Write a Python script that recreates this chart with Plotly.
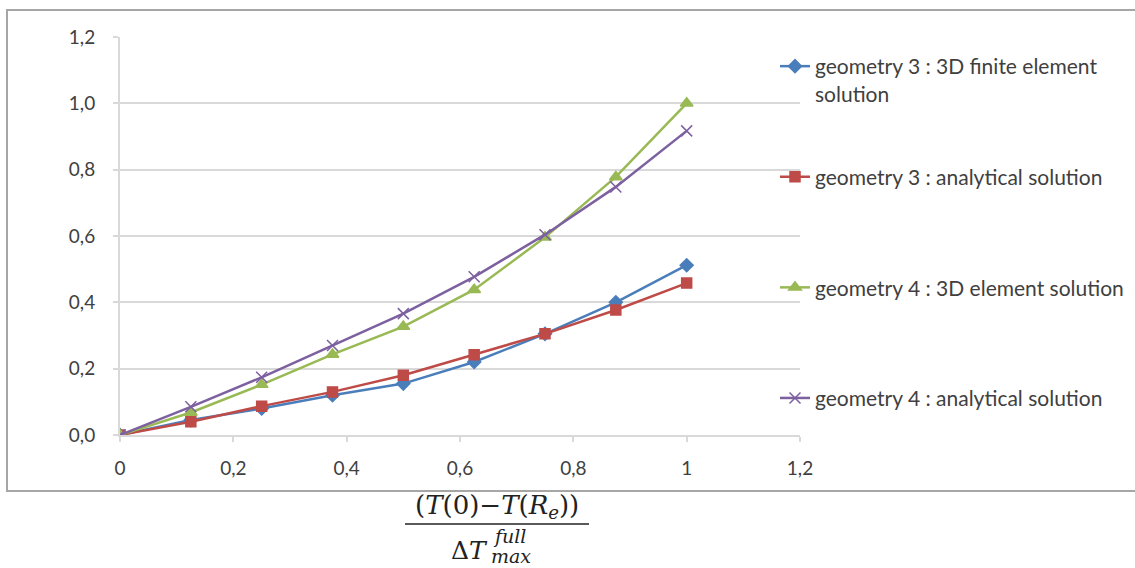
import plotly.graph_objects as go

x_vals = [0, 0.125, 0.25, 0.375, 0.5, 0.625, 0.75, 0.875, 1.0]
geom3_fe = [0, 0.045, 0.08, 0.12, 0.155, 0.22, 0.305, 0.40, 0.512]
geom3_an = [0, 0.04, 0.087, 0.13, 0.18, 0.242, 0.305, 0.377, 0.458]
geom4_fe = [0, 0.068, 0.152, 0.243, 0.327, 0.438, 0.596, 0.778, 1.0]
geom4_an = [0, 0.085, 0.174, 0.27, 0.366, 0.477, 0.604, 0.748, 0.917]

names = [
    "geometry 3 : 3D finite element<br>solution",
    "geometry 3 : analytical solution<br>&nbsp;",
    "geometry 4 : 3D element solution<br>&nbsp;",
    "geometry 4 : analytical solution<br>&nbsp;",
]
colors = ["#4a7ebb", "#be4b48", "#98b954", "#7d60a0"]
symbols = ["diamond", "square", "triangle-up", "x-thin-open"]
sizes = [10, 10, 11, 11]

x_tickvals = [0, 0.2, 0.4, 0.6, 0.8, 1.0, 1.2]
x_ticktext = ["0", "0,2", "0,4", "0,6", "0,8", "1", "1,2"]
y_tickvals = [0, 0.2, 0.4, 0.6, 0.8, 1.0, 1.2]
y_ticktext = ["0,0", "0,2", "0,4", "0,6", "0,8", "1,0", "1,2"]

fig = go.Figure()
for i, ys in enumerate([geom3_fe, geom3_an, geom4_fe, geom4_an]):
    fig.add_trace(go.Scatter(
        x=x_vals, y=ys, mode="lines+markers", name=names[i],
        legendgroup=f"g{i}",
        line=dict(color=colors[i], width=2.5),
        marker=dict(symbol=symbols[i], size=sizes[i], color=colors[i],
                    line=dict(color=colors[i], width=1.5)),
    ))

W, H = 1135, 568
L, R, T, B = 120, 800, 37, 435

def px(xp):
    return (xp - L) / (R - L)

def py(yp):
    return (B - yp) / (B - T)

grid_col = "#d9d9d9"
txt_col = "#404040"
tick_font = dict(family="Lato, Carlito, sans-serif", size=19, color=txt_col)
math_font = "DejaVu Serif, serif"

fig.update_layout(
    width=W, height=H,
    margin=dict(l=L, r=W - R, t=T, b=H - B, pad=0, autoexpand=False),
    paper_bgcolor="white", plot_bgcolor="white",
    showlegend=True,
    legend=dict(
        x=px(775), xref="paper", xanchor="left",
        y=py(46), yref="paper", yanchor="top",
        valign="top", tracegroupgap=53, maxheight=520,
        font=dict(family="Lato, Carlito, sans-serif", size=21, color=txt_col),
        bgcolor="rgba(0,0,0,0)", itemwidth=30,
    ),
    xaxis=dict(
        range=[0, 1.2], tickvals=x_tickvals, ticktext=x_ticktext,
        showgrid=False, zeroline=False, showline=True, linecolor=grid_col,
        linewidth=2, ticks="outside", ticklen=5, tickcolor=grid_col,
        tickwidth=2, tickfont=tick_font, ticklabelstandoff=10,
    ),
    yaxis=dict(
        range=[0, 1.2], tickvals=y_tickvals, ticktext=y_ticktext,
        showgrid=True, gridcolor=grid_col, gridwidth=2, zeroline=False,
        showline=True, linecolor=grid_col, linewidth=2,
        ticks="outside", ticklen=5, tickcolor=grid_col, tickwidth=2,
        tickfont=tick_font, ticklabelstandoff=14,
    ),
    shapes=[
        dict(type="rect", xref="paper", yref="paper",
             x0=px(7), x1=px(1145), y0=py(491), y1=py(10),
             line=dict(color="#a6a6a6", width=2), layer="below"),
        dict(type="line", xref="paper", yref="paper",
             x0=px(340), x1=px(595), y0=1.0, y1=1.0,
             line=dict(color="white", width=5), layer="above"),
        dict(type="line", xref="paper", yref="paper",
             x0=px(405), x1=px(589), y0=py(524), y1=py(524),
             line=dict(color="#222222", width=1.5)),
    ],
    annotations=[
        dict(xref="paper", yref="paper", x=px(497), y=py(506),
             text="(<i>T</i>(0)−<i>T</i>(<i>R<sub>e</sub></i>))",
             showarrow=False, xanchor="center", yanchor="middle",
             font=dict(family=math_font, size=26, color="#222222")),
        dict(xref="paper", yref="paper", x=px(490), y=py(550),
             text="Δ<i>T</i>", showarrow=False, xanchor="right", yanchor="middle",
             font=dict(family=math_font, size=25, color="#222222")),
        dict(xref="paper", yref="paper", x=px(491), y=py(536),
             text="<i>full</i>", showarrow=False, xanchor="left", yanchor="middle",
             font=dict(family=math_font, size=19, color="#222222")),
        dict(xref="paper", yref="paper", x=px(489), y=py(556),
             text="<i>max</i>", showarrow=False, xanchor="left", yanchor="middle",
             font=dict(family=math_font, size=19, color="#222222")),
    ],
)

fig.write_html("out.html")
